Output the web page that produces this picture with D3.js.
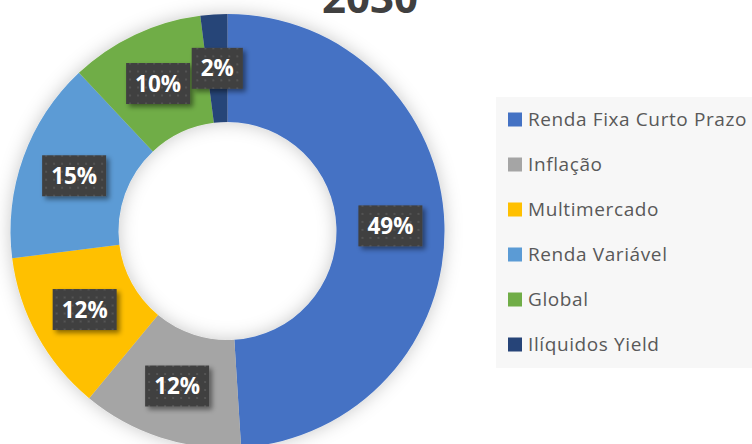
<!DOCTYPE html>
<html>
<head>
  <meta charset="utf-8">
  <style>
    body { margin: 0; background: #fff; }
    svg { display: block; font-family: "Open Sans", "Noto Sans", sans-serif; }
  </style>
</head>
<body>
  <svg id="chart" width="752" height="444"></svg>
  <script src="https://cdn.jsdelivr.net/npm/d3@7"></script>
  <script>
    const categories = ['Renda Fixa Curto Prazo', 'Inflação', 'Multimercado', 'Renda Variável', 'Global', 'Ilíquidos Yield']
    const values = [49, 12, 12, 15, 10, 2]
    const colors = ['#4472C4', '#A5A5A5', '#FFC000', '#5B9BD5', '#70AD47', '#264478']
    const title = '2030'

    const svg = d3.select('#chart')
    const defs = svg.append('defs')

    // soft glow around the ring
    const glow = defs.append('filter').attr('id', 'glow')
      .attr('x', '-20%').attr('y', '-20%').attr('width', '140%').attr('height', '140%')
    glow.append('feDropShadow').attr('dx', 0).attr('dy', 0)
      .attr('stdDeviation', 9).attr('flood-color', '#000').attr('flood-opacity', 0.22)

    const boxShadow = defs.append('filter').attr('id', 'boxshadow')
      .attr('x', '-30%').attr('y', '-30%').attr('width', '160%').attr('height', '160%')
    boxShadow.append('feDropShadow').attr('dx', 3).attr('dy', 3)
      .attr('stdDeviation', 2.5).attr('flood-color', '#000').attr('flood-opacity', 0.45)

    const pat = defs.append('pattern').attr('id', 'dots')
      .attr('width', 8).attr('height', 8).attr('patternUnits', 'userSpaceOnUse')
    pat.append('rect').attr('width', 8).attr('height', 8).attr('fill', '#404040')
    pat.append('circle').attr('cx', 4).attr('cy', 4).attr('r', 1.1).attr('fill', '#585858')

    // title (partly above the frame, as in the original)
    svg.append('text')
      .attr('x', 370).attr('y', 13)
      .attr('text-anchor', 'middle')
      .attr('font-size', 42).attr('font-weight', 'bold')
      .attr('fill', '#404040')
      .text(title)

    const cx = 227.5, cy = 231
    const outerR = 217, innerR = 109

    const pie = d3.pie().sort(null).value(d => d)
    const arcs = pie(values)
    const arc = d3.arc().innerRadius(innerR).outerRadius(outerR)
    const labelArc = d3.arc().innerRadius(163).outerRadius(163)

    const g = svg.append('g').attr('transform', `translate(${cx},${cy})`)
    g.append('g').attr('filter', 'url(#glow)')
      .selectAll('path').data(arcs).enter()
      .append('path')
      .attr('d', arc)
      .attr('fill', (d, i) => colors[i])

    const labels = g.selectAll('.lbl').data(arcs).enter()
      .append('g').attr('class', 'lbl')
      .attr('transform', d => `translate(${labelArc.centroid(d)})`)
    labels.append('rect').attr('class', 'box')
    labels.append('text')
      .attr('text-anchor', 'middle')
      .attr('dy', '0.36em')
      .attr('font-size', 22.5).attr('font-weight', 'bold')
      .attr('fill', '#fff')
      .text(d => d.data + '%')
    labels.each(function () {
      const t = d3.select(this).select('text')
      const w = t.node().getComputedTextLength() + 18
      d3.select(this).select('rect')
        .attr('x', -w / 2).attr('y', -20.5)
        .attr('width', w).attr('height', 41)
        .attr('fill', 'url(#dots)')
        .attr('filter', 'url(#boxshadow)')
    })

    // legend
    const legend = svg.append('g')
    legend.append('rect')
      .attr('x', 496).attr('y', 97).attr('width', 256).attr('height', 271)
      .attr('fill', '#f7f7f7')
    const ly = d3.scaleBand().domain(categories).range([97, 367])
    const items = legend.selectAll('.item').data(categories).enter()
      .append('g').attr('class', 'item')
      .attr('transform', d => `translate(508,${ly(d) + ly.bandwidth() / 2})`)
    items.append('rect')
      .attr('x', 0).attr('y', -7).attr('width', 14).attr('height', 14)
      .attr('fill', (d, i) => colors[i])
    items.append('text')
      .attr('x', 20).attr('dy', '0.35em')
      .attr('font-size', 19)
      .attr('letter-spacing', 0.6)
      .attr('fill', '#595959')
      .text(d => d)
  </script>
</body>
</html>
